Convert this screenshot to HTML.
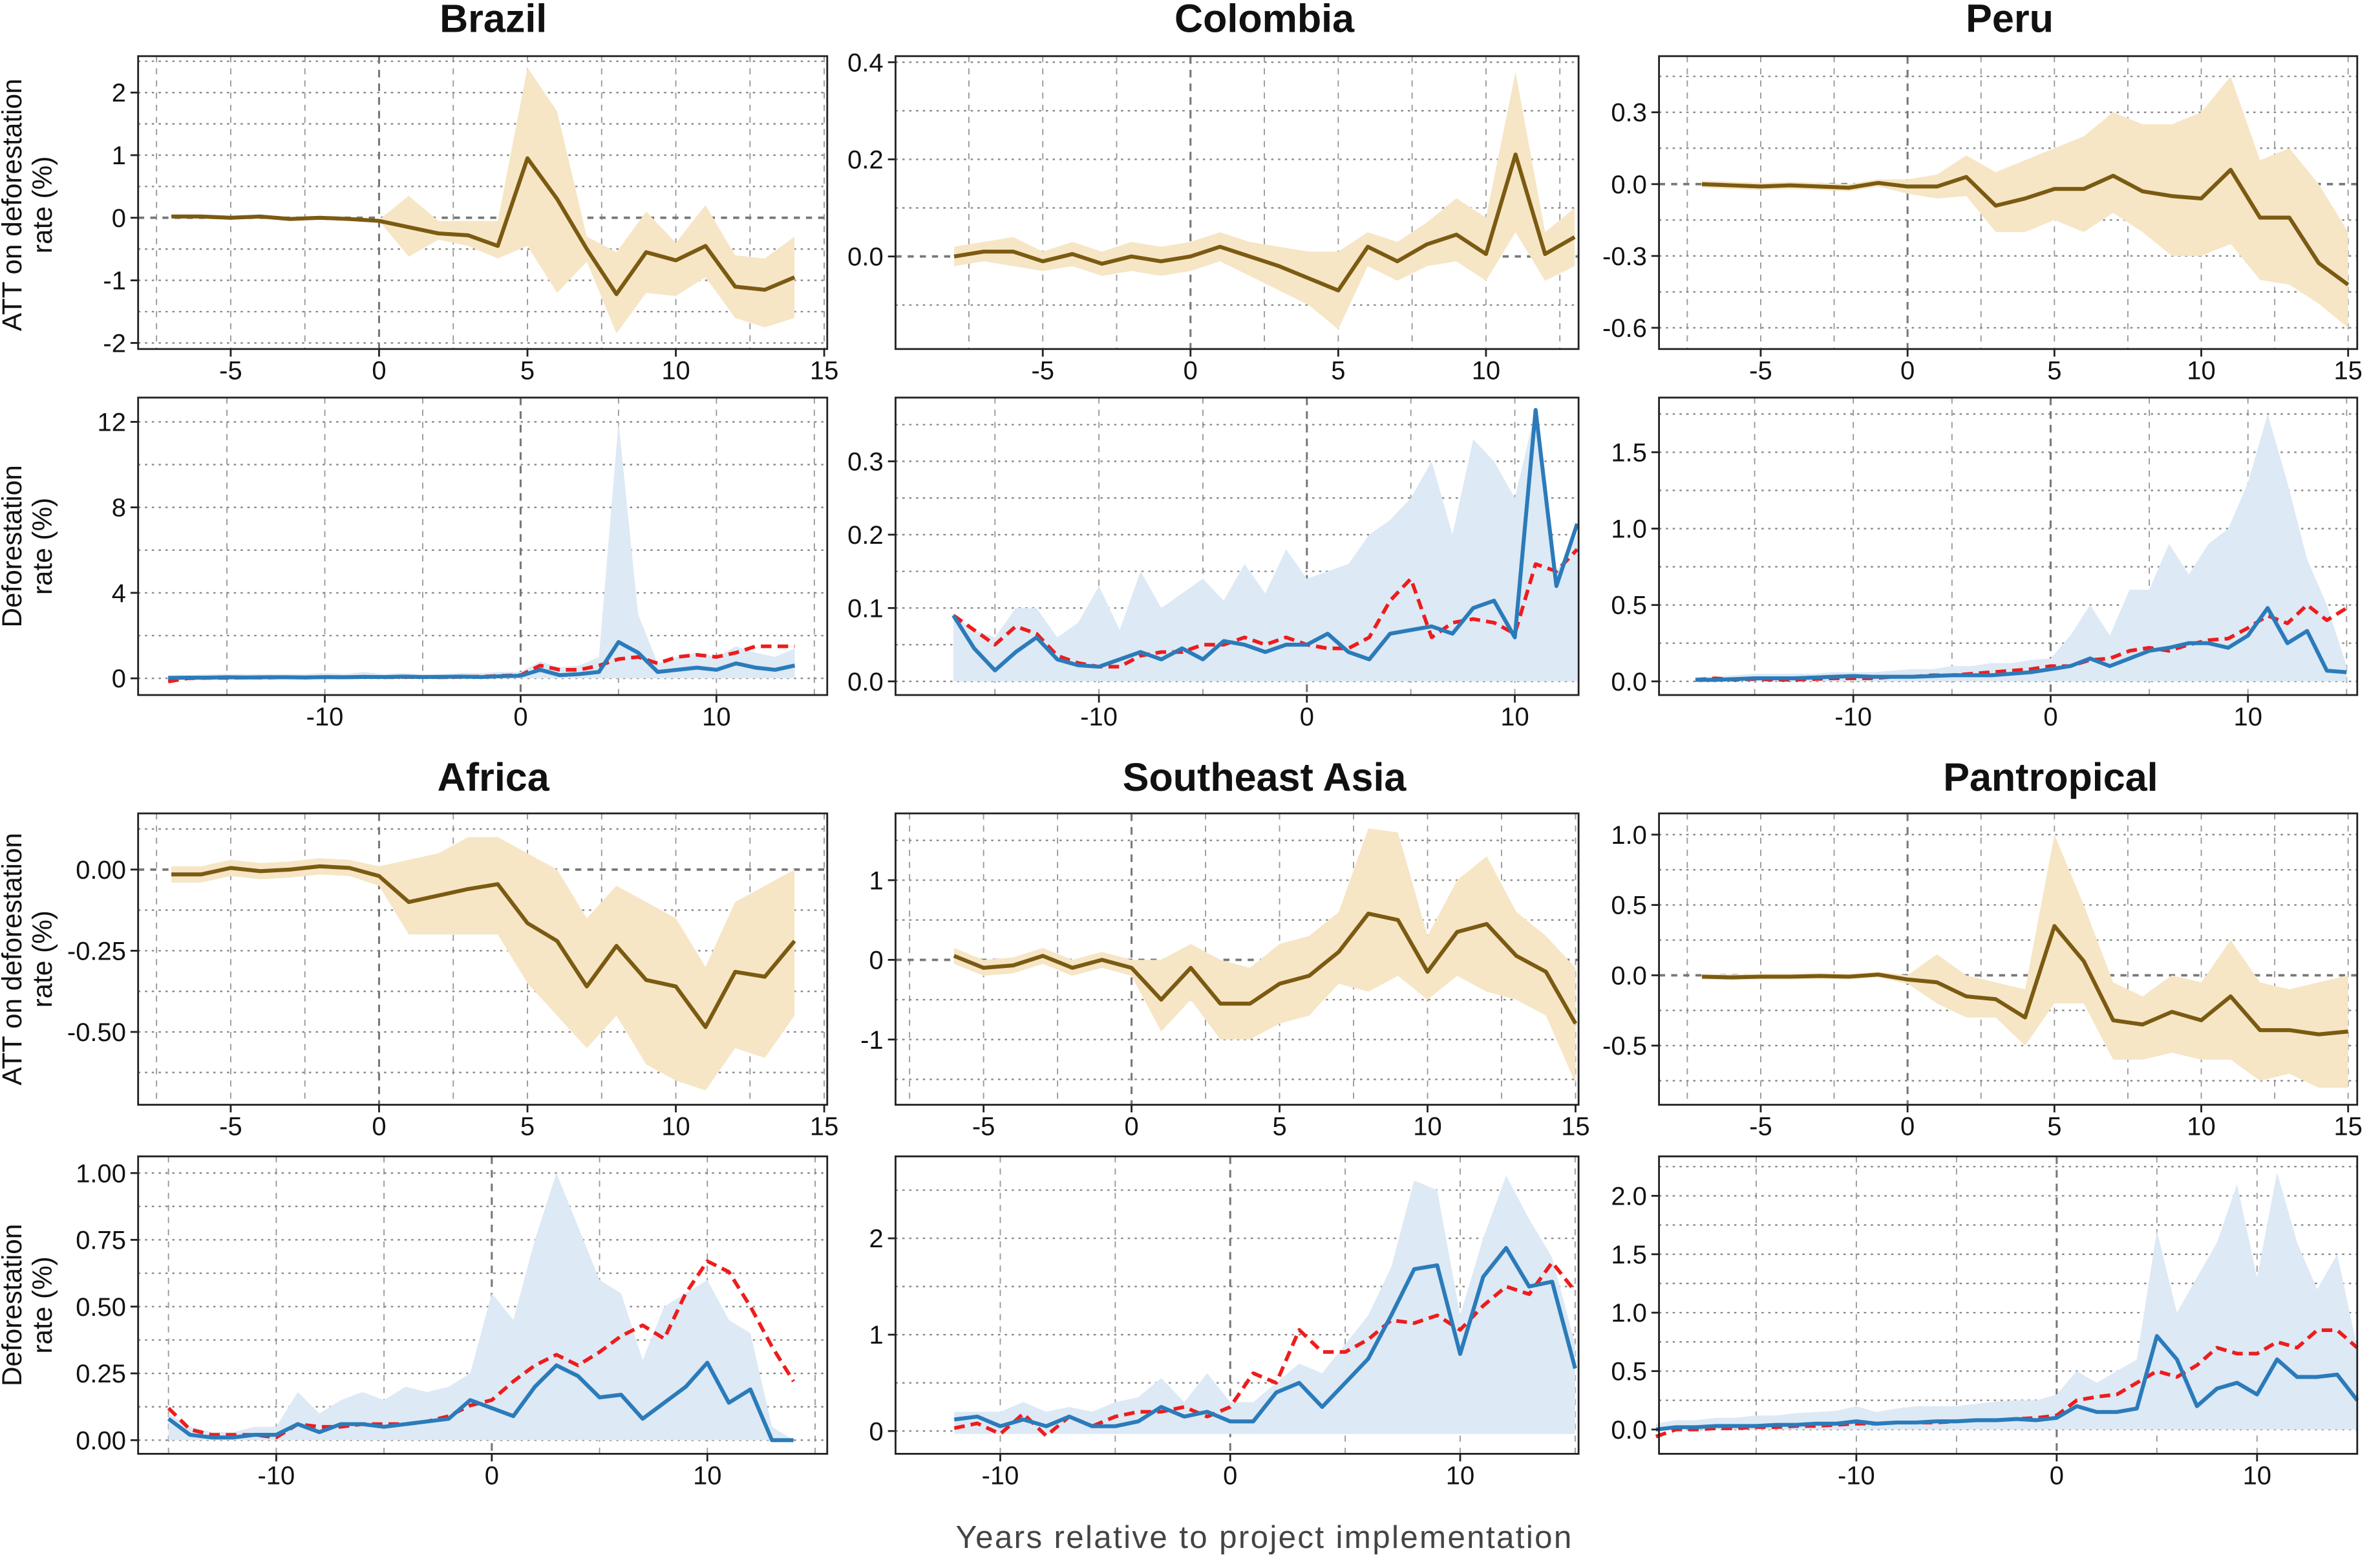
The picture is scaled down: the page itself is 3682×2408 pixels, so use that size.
<!DOCTYPE html>
<html><head><meta charset="utf-8"><style>
html,body{margin:0;padding:0;background:#fff;}
svg{display:block;}
text{font-family:"Liberation Sans",Arial,sans-serif;fill:#111;}
</style></head><body>
<svg id="s" xmlns="http://www.w3.org/2000/svg" width="3682" height="2408" viewBox="0 0 1568 1026" preserveAspectRatio="none">
<rect width="1568" height="1026" fill="#fff"/>
<g id="g"></g>
<text x="325" y="21" font-size="26" font-weight="bold" text-anchor="middle">Brazil</text>
<text x="833" y="21" font-size="26" font-weight="bold" text-anchor="middle">Colombia</text>
<text x="1324" y="21" font-size="26" font-weight="bold" text-anchor="middle">Peru</text>
<text x="325" y="521" font-size="26" font-weight="bold" text-anchor="middle">Africa</text>
<text x="833" y="521" font-size="26" font-weight="bold" text-anchor="middle">Southeast Asia</text>
<text x="1351" y="521" font-size="26" font-weight="bold" text-anchor="middle">Pantropical</text>
<text x="833" y="1020" font-size="21" letter-spacing="1" text-anchor="middle" style="fill:#444">Years relative to project implementation</text>
<g font-size="18">
<text transform="translate(14,135) rotate(-90)" text-anchor="middle">ATT on deforestation</text>
<text transform="translate(34,135) rotate(-90)" text-anchor="middle">rate (%)</text>
<text transform="translate(14,360) rotate(-90)" text-anchor="middle">Deforestation</text>
<text transform="translate(34,360) rotate(-90)" text-anchor="middle">rate (%)</text>
<text transform="translate(14,632) rotate(-90)" text-anchor="middle">ATT on deforestation</text>
<text transform="translate(34,632) rotate(-90)" text-anchor="middle">rate (%)</text>
<text transform="translate(14,860) rotate(-90)" text-anchor="middle">Deforestation</text>
<text transform="translate(34,860) rotate(-90)" text-anchor="middle">rate (%)</text>
</g>
</svg>
<script>
var NS="http://www.w3.org/2000/svg",G=document.getElementById("g");
function el(t,a,txt){var e=document.createElementNS(NS,t);for(var k in a)e.setAttribute(k,a[k]);if(txt!=null)e.textContent=txt;G.appendChild(e);return e;}
function panel(o){
 var X0=o.box[0],Y0=o.box[1],X1=o.box[2],Y1=o.box[3];
 function px(v){return o.xp[0]+(v-o.xv[0])*(o.xp[1]-o.xp[0])/(o.xv[1]-o.xv[0]);}
 function py(v){return o.yp[0]+(v-o.yv[0])*(o.yp[1]-o.yp[0])/(o.yv[1]-o.yv[0]);}
 var xs=o.xstep/2;
 for(var v=Math.ceil(((X0-o.xp[0])/((o.xp[1]-o.xp[0])/(o.xv[1]-o.xv[0]))+o.xv[0])/xs)*xs;px(v)<X1;v+=xs){
   if(Math.abs(v)<1e-9)continue;
   el("line",{x1:px(v),x2:px(v),y1:Y0,y2:Y1,stroke:"#999","stroke-width":0.8,"stroke-dasharray":"4 4"});
 }
 var ys=o.ystep/2;
 var vmin=o.yv[0]+(Y1-o.yp[0])/((o.yp[1]-o.yp[0])/(o.yv[1]-o.yv[0]));
 for(var v=Math.ceil(vmin/ys)*ys;py(v)>Y0;v+=ys){
   if(o.att&&Math.abs(v)<1e-9)continue;
   el("line",{x1:X0,x2:X1,y1:py(v),y2:py(v),stroke:"#888","stroke-width":1,"stroke-dasharray":"1.5 3"});
 }
 el("line",{x1:px(0),x2:px(0),y1:Y0,y2:Y1,stroke:"#777","stroke-width":1.3,"stroke-dasharray":"5 4"});
 if(o.att) el("line",{x1:X0,x2:X1,y1:py(0),y2:py(0),stroke:"#777","stroke-width":1.6,"stroke-dasharray":"4 4"});
 var b=o.band,pts=[];
 for(var i=0;i<b.length;i++)pts.push(px(b[i][0])+","+py(b[i][2]));
 for(var i=b.length-1;i>=0;i--)pts.push(px(b[i][0])+","+py(b[i][1]));
 el("polygon",{points:pts.join(" "),fill:o.att?"#f6e6c6":"#dde9f5",stroke:"none"});
 function line(d,start,col,w,dash){var p=[];for(var i=0;i<d.length;i++)p.push(px(start+i)+","+py(d[i]));
  var a={points:p.join(" "),fill:"none",stroke:col,"stroke-width":w,"stroke-linejoin":"round"};if(dash)a["stroke-dasharray"]=dash;el("polyline",a);}
 if(o.red)line(o.red,o.start,"#ee1c1c",2.4,"7 4");
 line(o.main,o.start,o.att?"#7b5a12":"#2b7bba",2.6);
 el("rect",{x:X0,y:Y0,width:X1-X0,height:Y1-Y0,fill:"none",stroke:"#222","stroke-width":1.2});
 o.xt.forEach(function(v){el("line",{x1:px(v),x2:px(v),y1:Y1,y2:Y1+5,stroke:"#222","stroke-width":1.2});
   el("text",{x:px(v),y:Y1+20,"font-size":17,"text-anchor":"middle"},String(v));});
 o.yt.forEach(function(t){var v=t[0];el("line",{x1:X0-5,x2:X0,y1:py(v),y2:py(v),stroke:"#222","stroke-width":1.2});
   el("text",{x:X0-8,y:py(v)+6,"font-size":17,"text-anchor":"end"},t[1]);});
}
function bandFrom(start,lo,hi){var r=[];for(var i=0;i<lo.length;i++)r.push([start+i,lo[i],hi[i]]);return r;}
function rng(a,b){var r=[];for(var i=a;i<=b;i++)r.push(i);return r;}

panel({att:1,box:[91,37,545,230],xv:[-5,15],xp:[152,543],yv:[2,-2],yp:[61,226],xstep:5,ystep:1,
 xt:[-5,0,5,10,15],yt:[[2,"2"],[1,"1"],[0,"0"],[-1,"-1"],[-2,"-2"]],start:-7,
 main:[0.02,0.02,0,0.02,-0.02,0,-0.02,-0.05,-0.15,-0.25,-0.28,-0.45,0.95,0.3,-0.5,-1.22,-0.55,-0.68,-0.45,-1.1,-1.15,-0.95],
 band:bandFrom(-7,[0,0,-0.02,0,-0.04,-0.02,-0.04,-0.05,-0.62,-0.35,-0.45,-0.65,-0.45,-1.2,-0.7,-1.85,-1.2,-1.25,-0.95,-1.6,-1.75,-1.6],
                   [0.04,0.04,0.02,0.04,0,0.02,0,-0.03,0.35,-0.05,-0.05,-0.05,2.4,1.7,-0.3,-0.55,0.1,-0.4,0.2,-0.6,-0.65,-0.3])});
panel({box:[91,262,545,458],xv:[-10,10],xp:[214,472],yv:[12,0],yp:[278,447],xstep:10,ystep:4,
 xt:[-10,0,10],yt:[[12,"12"],[8,"8"],[4,"4"],[0,"0"]],start:-18,
 main:[0.02,0.03,0.03,0.05,0.04,0.05,0.05,0.04,0.06,0.05,0.07,0.06,0.08,0.06,0.07,0.08,0.06,0.1,0.12,0.4,0.15,0.2,0.3,1.7,1.2,0.3,0.4,0.5,0.4,0.7,0.5,0.4,0.6],
 red:[-0.15,0,0.02,0.02,0.04,0.03,0.05,0.04,0.05,0.05,0.06,0.05,0.06,0.06,0.05,0.07,0.08,0.12,0.15,0.6,0.4,0.4,0.6,0.9,1.0,0.7,1.0,1.1,1.0,1.2,1.5,1.5,1.5],
 band:bandFrom(-18,rng(-18,14).map(function(){return 0;}),[0.15,0.15,0.2,0.2,0.2,0.2,0.2,0.2,0.25,0.2,0.3,0.2,0.25,0.2,0.2,0.25,0.25,0.3,0.3,0.8,0.5,0.6,1.0,12,3,0.7,1.0,1.2,1.0,1.5,1.2,1.0,1.4])});
panel({att:1,box:[590,37,1040,230],xv:[-5,10],xp:[687,979],yv:[0.4,0],yp:[41,169],xstep:5,ystep:0.2,
 xt:[-5,0,5,10],yt:[[0.4,"0.4"],[0.2,"0.2"],[0,"0.0"]],start:-8,
 main:[0,0.01,0.01,-0.01,0.005,-0.015,0,-0.01,0,0.02,0,-0.02,-0.045,-0.07,0.02,-0.01,0.025,0.045,0.005,0.21,0.005,0.04],
 band:bandFrom(-8,[-0.02,-0.01,-0.02,-0.03,-0.02,-0.04,-0.03,-0.04,-0.03,-0.01,-0.04,-0.07,-0.1,-0.15,-0.02,-0.05,-0.02,-0.01,-0.05,0.05,-0.05,-0.02],
                   [0.02,0.03,0.04,0.01,0.03,0.01,0.03,0.02,0.03,0.05,0.03,0.02,0.01,0.01,0.05,0.03,0.07,0.12,0.08,0.38,0.05,0.1])});
panel({box:[590,262,1040,458],xv:[-10,10],xp:[724,998],yv:[0.3,0],yp:[304,449],xstep:10,ystep:0.1,
 xt:[-10,0,10],yt:[[0.3,"0.3"],[0.2,"0.2"],[0.1,"0.1"],[0,"0.0"]],start:-17,
 main:[0.09,0.045,0.015,0.04,0.06,0.03,0.022,0.02,0.03,0.04,0.03,0.045,0.03,0.055,0.05,0.04,0.05,0.05,0.065,0.04,0.03,0.065,0.07,0.075,0.065,0.1,0.11,0.06,0.37,0.13,0.215],
 red:[0.09,0.07,0.05,0.075,0.065,0.035,0.025,0.02,0.02,0.035,0.04,0.04,0.05,0.05,0.06,0.05,0.06,0.05,0.045,0.045,0.06,0.11,0.14,0.06,0.08,0.085,0.08,0.065,0.16,0.15,0.18],
 band:bandFrom(-17,rng(-17,13).map(function(){return 0;}),[0.09,0.07,0.06,0.1,0.1,0.06,0.08,0.13,0.07,0.15,0.1,0.12,0.14,0.11,0.16,0.12,0.18,0.14,0.15,0.16,0.2,0.22,0.25,0.3,0.2,0.33,0.3,0.25,0.37,0.15,0.2])});
panel({att:1,box:[1093,37,1553,230],xv:[-5,15],xp:[1160,1547],yv:[0.3,-0.6],yp:[74,216],xstep:5,ystep:0.3,
 xt:[-5,0,5,10,15],yt:[[0.3,"0.3"],[0,"0.0"],[-0.3,"-0.3"],[-0.6,"-0.6"]],start:-7,
 main:[0,-0.005,-0.01,-0.005,-0.01,-0.015,0.005,-0.01,-0.01,0.03,-0.09,-0.06,-0.02,-0.02,0.035,-0.03,-0.05,-0.06,0.06,-0.14,-0.14,-0.33,-0.42],
 band:bandFrom(-7,[-0.015,-0.02,-0.025,-0.02,-0.025,-0.03,-0.01,-0.04,-0.06,-0.05,-0.2,-0.2,-0.15,-0.2,-0.12,-0.2,-0.3,-0.3,-0.25,-0.4,-0.42,-0.5,-0.6],
                   [0.015,0.01,0.005,0.01,0.005,0,0.02,0.02,0.04,0.12,0.05,0.1,0.15,0.2,0.3,0.25,0.25,0.3,0.45,0.1,0.15,0,-0.2])});
panel({box:[1093,262,1553,458],xv:[-10,10],xp:[1221,1481],yv:[1.5,0],yp:[298,449],xstep:10,ystep:0.5,
 xt:[-10,0,10],yt:[[1.5,"1.5"],[1,"1.0"],[0.5,"0.5"],[0,"0.0"]],start:-18,
 main:[0.01,0.01,0.015,0.02,0.02,0.02,0.025,0.03,0.035,0.03,0.03,0.03,0.035,0.04,0.04,0.04,0.05,0.06,0.08,0.1,0.15,0.1,0.15,0.2,0.22,0.25,0.25,0.22,0.3,0.48,0.25,0.33,0.07,0.06],
 red:[0.01,0.02,0.01,0.015,0.01,0.01,0.015,0.02,0.02,0.02,0.03,0.03,0.04,0.04,0.05,0.06,0.07,0.08,0.1,0.1,0.14,0.15,0.2,0.22,0.2,0.24,0.27,0.28,0.35,0.43,0.38,0.5,0.4,0.48],
 band:bandFrom(-18,rng(-18,15).map(function(){return 0;}),[0.03,0.03,0.04,0.05,0.05,0.05,0.05,0.06,0.06,0.06,0.07,0.08,0.08,0.1,0.1,0.12,0.12,0.14,0.15,0.3,0.5,0.3,0.6,0.6,0.9,0.7,0.9,1.0,1.3,1.75,1.3,0.8,0.5,0.1])});
panel({att:1,box:[91,536,545,728],xv:[-5,15],xp:[152,543],yv:[0,-0.5],yp:[573,680],xstep:5,ystep:0.25,
 xt:[-5,0,5,10,15],yt:[[0,"0.00"],[-0.25,"-0.25"],[-0.5,"-0.50"]],start:-7,
 main:[-0.015,-0.015,0.005,-0.005,0,0.01,0.005,-0.02,-0.1,-0.08,-0.06,-0.045,-0.165,-0.22,-0.36,-0.235,-0.34,-0.36,-0.485,-0.315,-0.33,-0.22],
 band:bandFrom(-7,[-0.04,-0.04,-0.02,-0.03,-0.025,-0.015,-0.02,-0.05,-0.2,-0.2,-0.2,-0.2,-0.35,-0.45,-0.55,-0.45,-0.6,-0.65,-0.68,-0.55,-0.58,-0.45],
                   [0.01,0.01,0.03,0.02,0.025,0.035,0.03,0.01,0.03,0.05,0.1,0.1,0.05,0,-0.15,-0.05,-0.1,-0.15,-0.3,-0.1,-0.05,0])});
panel({box:[91,762,545,958],xv:[-10,10],xp:[182,466],yv:[1,0],yp:[773,949],xstep:10,ystep:0.25,
 xt:[-10,0,10],yt:[[1,"1.00"],[0.75,"0.75"],[0.5,"0.50"],[0.25,"0.25"],[0,"0.00"]],start:-15,
 main:[0.08,0.02,0.01,0.01,0.02,0.02,0.06,0.03,0.06,0.06,0.05,0.06,0.07,0.08,0.15,0.12,0.09,0.2,0.28,0.24,0.16,0.17,0.08,0.14,0.2,0.29,0.14,0.19,0,0],
 red:[0.12,0.04,0.02,0.02,0.02,0.01,0.06,0.05,0.05,0.06,0.06,0.06,0.07,0.09,0.13,0.15,0.22,0.28,0.32,0.28,0.33,0.39,0.43,0.38,0.55,0.67,0.63,0.5,0.35,0.22],
 band:bandFrom(-15,rng(-15,14).map(function(){return 0;}),[0.1,0.05,0.03,0.03,0.05,0.05,0.18,0.1,0.15,0.18,0.15,0.2,0.18,0.2,0.25,0.55,0.45,0.75,1.0,0.8,0.6,0.55,0.3,0.5,0.55,0.6,0.45,0.4,0.05,0])});
panel({att:1,box:[590,536,1040,728],xv:[-5,15],xp:[648,1038],yv:[1,-1],yp:[580,685],xstep:5,ystep:1,
 xt:[-5,0,5,10,15],yt:[[1,"1"],[0,"0"],[-1,"-1"]],start:-6,
 main:[0.05,-0.1,-0.07,0.05,-0.1,0,-0.1,-0.5,-0.1,-0.55,-0.55,-0.3,-0.2,0.1,0.58,0.5,-0.15,0.35,0.45,0.05,-0.15,-0.8],
 band:bandFrom(-6,[-0.05,-0.2,-0.17,-0.05,-0.2,-0.1,-0.2,-0.9,-0.5,-1.0,-1.0,-0.8,-0.7,-0.3,-0.4,-0.2,-0.5,-0.2,-0.4,-0.5,-0.7,-1.55],
                   [0.15,0,0.03,0.15,0,0.1,0,0,0.2,0,-0.1,0.2,0.3,0.6,1.65,1.6,0.3,1.0,1.3,0.6,0.3,-0.1])});
panel({box:[590,762,1040,958],xv:[-10,10],xp:[659,962],yv:[2,0],yp:[816,943],xstep:10,ystep:1,
 xt:[-10,0,10],yt:[[2,"2"],[1,"1"],[0,"0"]],start:-12,
 main:[0.12,0.15,0.05,0.12,0.05,0.15,0.05,0.05,0.1,0.25,0.15,0.2,0.1,0.1,0.4,0.5,0.25,0.5,0.75,1.2,1.68,1.72,0.8,1.6,1.9,1.5,1.55,0.65],
 red:[0.03,0.08,-0.03,0.18,-0.05,0.15,0.05,0.15,0.2,0.2,0.25,0.15,0.25,0.6,0.5,1.05,0.82,0.82,0.95,1.15,1.12,1.2,1.05,1.3,1.5,1.42,1.75,1.45],
 band:bandFrom(-12,rng(-12,15).map(function(){return -0.03;}),[0.2,0.2,0.2,0.3,0.2,0.25,0.2,0.3,0.35,0.55,0.3,0.6,0.3,0.3,0.5,0.7,0.6,0.9,1.2,1.7,2.6,2.5,1.2,2.0,2.65,2.2,1.8,0.9])});
panel({att:1,box:[1093,536,1553,728],xv:[-5,15],xp:[1160,1547],yv:[1,-0.5],yp:[550,689],xstep:5,ystep:0.5,
 xt:[-5,0,5,10,15],yt:[[1,"1.0"],[0.5,"0.5"],[0,"0.0"],[-0.5,"-0.5"]],start:-7,
 main:[-0.01,-0.015,-0.01,-0.01,-0.005,-0.01,0.005,-0.03,-0.05,-0.15,-0.17,-0.3,0.35,0.1,-0.32,-0.35,-0.26,-0.32,-0.15,-0.39,-0.39,-0.42,-0.4],
 band:bandFrom(-7,[-0.03,-0.035,-0.03,-0.03,-0.025,-0.03,-0.015,-0.06,-0.2,-0.3,-0.3,-0.5,-0.2,-0.2,-0.6,-0.6,-0.55,-0.6,-0.6,-0.75,-0.7,-0.8,-0.8],
                   [0.01,0.005,0.01,0.01,0.015,0.01,0.025,0,0.15,0,-0.05,-0.1,1.0,0.5,-0.05,-0.15,0,-0.05,0.25,-0.05,-0.1,-0.05,0])});
panel({box:[1093,762,1553,958],xv:[-10,10],xp:[1223,1487],yv:[2,0],yp:[788,942],xstep:10,ystep:0.5,
 xt:[-10,0,10],yt:[[2,"2.0"],[1.5,"1.5"],[1,"1.0"],[0.5,"0.5"],[0,"0.0"]],start:-20,
 main:[0,0.02,0.02,0.03,0.03,0.03,0.04,0.04,0.05,0.05,0.07,0.05,0.06,0.06,0.07,0.07,0.08,0.08,0.09,0.08,0.1,0.2,0.15,0.15,0.18,0.8,0.6,0.2,0.35,0.4,0.3,0.6,0.45,0.45,0.47,0.25],
 red:[-0.06,0,0,0.01,0.01,0.02,0.02,0.03,0.03,0.04,0.05,0.05,0.06,0.06,0.06,0.07,0.08,0.08,0.09,0.1,0.12,0.25,0.28,0.3,0.4,0.5,0.45,0.55,0.7,0.65,0.65,0.75,0.7,0.85,0.85,0.7],
 band:bandFrom(-20,rng(-20,15).map(function(){return 0;}),[0.05,0.08,0.08,0.1,0.1,0.12,0.12,0.14,0.15,0.16,0.2,0.15,0.18,0.2,0.2,0.2,0.22,0.24,0.25,0.25,0.3,0.5,0.4,0.5,0.6,1.7,1.0,1.3,1.6,2.1,1.3,2.2,1.6,1.2,1.5,0.7])});
</script>
</body></html>
